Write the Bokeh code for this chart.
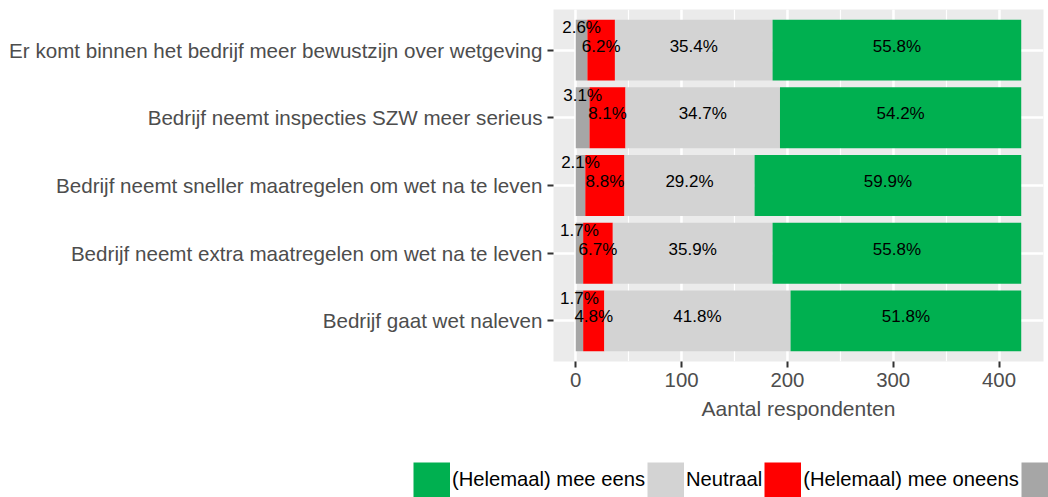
from bokeh.plotting import figure
from bokeh.models import (ColumnDataSource, Range1d, SingleIntervalTicker, FixedTicker,
                          Legend, LegendItem)
from bokeh.embed import file_html
from bokeh.resources import INLINE
from bokeh.core.properties import value

# ---- data ----
categories = [
    "Er komt binnen het bedrijf meer bewustzijn over wetgeving",
    "Bedrijf neemt inspecties SZW meer serieus",
    "Bedrijf neemt sneller maatregelen om wet na te leven",
    "Bedrijf neemt extra maatregelen om wet na te leven",
    "Bedrijf gaat wet naleven",
]
onbekend = [11, 13, 9, 7, 7]          # grey segment (label cut off in source)
oneens = [26, 34, 37, 28, 20]         # (Helemaal) mee oneens
neutraal = [149, 146, 123, 151, 176]  # Neutraal
eens = [235, 228, 252, 235, 218]      # (Helemaal) mee eens

series_names = ["", "(Helemaal) mee oneens", "Neutraal", "(Helemaal) mee eens"]
series_values = [onbekend, oneens, neutraal, eens]
series_colors = ["#A6A6A6", "#FF0000", "#D3D3D3", "#00B050"]
legend_order = [3, 2, 1, 0]

x_ticks_interval = 100
x_axis_title = "Aantal respondenten"

FONT = "Liberation Sans"
W = 1048

n = len(categories)
ys = [n - i for i in range(n)]
totals = [sum(v[i] for v in series_values) for i in range(n)]
tmax = max(totals)
pad = 0.05 * tmax

p = figure(width=W, height=462,
           x_range=Range1d(-pad, tmax + pad), y_range=Range1d(0.4, n + 0.6),
           output_backend="svg", toolbar_location=None,
           min_border_left=553, min_border_right=5, min_border_top=9, min_border_bottom=101,
           background_fill_color="#EBEBEB", border_fill_color="white",
           outline_line_color=None)

label_sources = []
cum = [0] * n
for k, (vals, col) in enumerate(zip(series_values, series_colors)):
    left = cum[:]
    right = [l + v for l, v in zip(left, vals)]
    cum = right
    lab = ["%.1f%%" % (100.0 * v / t) for v, t in zip(vals, totals)]
    ly = [y + (0.275 if k == 0 else 0.0) for y in ys]
    src = ColumnDataSource(dict(y=ys, left=left, right=right,
                                xm=[(a + b) / 2 for a, b in zip(left, right)],
                                ly=ly, lab=lab))
    p.hbar(y="y", left="left", right="right", height=0.9, source=src,
           fill_color=col, line_color=None)
    label_sources.append(src)

for src in label_sources:
    p.text(x="xm", y="ly", text="lab", source=src, text_align="center",
           text_baseline="alphabetic", y_offset=-4, text_font=value(FONT),
           text_font_size="17px", text_color="black")

# axes
p.xaxis.ticker = SingleIntervalTicker(interval=x_ticks_interval, num_minor_ticks=2)
p.yaxis.ticker = FixedTicker(ticks=ys)
p.yaxis.major_label_overrides = {y: c for y, c in zip(ys, categories)}
p.xaxis.axis_label = x_axis_title
for ax in (p.xaxis[0], p.yaxis[0]):
    ax.axis_line_color = None
    ax.major_tick_line_color = "#333333"
    ax.major_tick_line_width = 2
    ax.major_tick_out = 6
    ax.major_tick_in = 0
    ax.minor_tick_line_color = None
    ax.major_label_text_font = FONT
    ax.major_label_text_font_size = "20.4px"
    ax.major_label_text_color = "#4D4D4D"
    ax.major_label_standoff = 5
p.yaxis.major_label_text_font_size = "20.6px"
p.xaxis.axis_label_text_font = FONT
p.xaxis.axis_label_text_font_size = "21px"
p.xaxis.axis_label_text_font_style = "normal"
p.xaxis.axis_label_text_color = "#4D4D4D"
p.xaxis.axis_label_standoff = 7

# grid
p.xgrid.grid_line_color = "white"
p.xgrid.grid_line_width = 2.5
p.xgrid.minor_grid_line_color = "white"
p.xgrid.minor_grid_line_width = 1.2
p.ygrid.grid_line_color = "white"
p.ygrid.grid_line_width = 2.5

# legend strip below the chart (separate root, so no frame alignment)
KEY_H = 35
lf = figure(width=W, height=KEY_H, x_range=Range1d(0, 1), y_range=Range1d(1000, 1001),
            output_backend="svg", toolbar_location=None,
            x_axis_location=None, y_axis_location=None,
            min_border=0, min_border_left=0, min_border_right=0,
            min_border_top=0, min_border_bottom=0, outline_line_color=None,
            background_fill_color="white", border_fill_color="white")
lf.xgrid.visible = False
lf.ygrid.visible = False
leg_renderers = []
for src, col in zip(label_sources, series_colors):
    # thick line glyph: its legend key fills the whole key box
    leg_renderers.append(lf.line(x="xm", y="y", source=src, line_color=col,
                                 line_width=KEY_H, line_cap="butt"))
items = [LegendItem(label=series_names[k], renderers=[leg_renderers[k]]) for k in legend_order]
legend = Legend(items=items, location=(413, 0), orientation="horizontal",
                glyph_width=37, glyph_height=KEY_H, label_standoff=2, spacing=2,
                padding=0, margin=0, border_line_color=None, background_fill_alpha=0,
                label_text_font=FONT, label_text_font_size="20.2px", label_text_color="black")
lf.add_layout(legend)

open("out.html", "w").write(file_html([p, lf], INLINE))
